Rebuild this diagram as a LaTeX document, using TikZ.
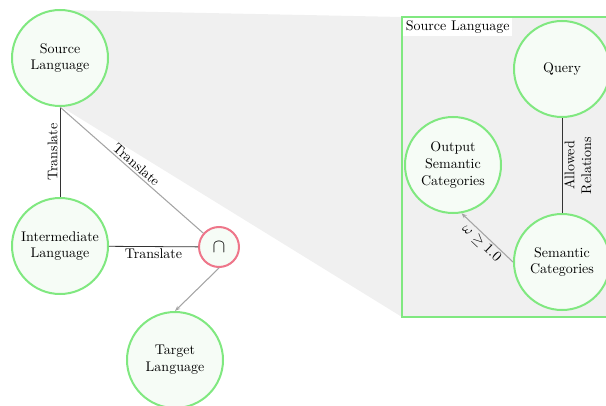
\documentclass[tikz,border=0pt]{standalone}
\usetikzlibrary{arrows.meta,backgrounds}
\definecolor{nodegreen}{RGB}{128,232,128}
\definecolor{nodefill}{RGB}{246,252,246}
\definecolor{capred}{RGB}{238,118,138}
\definecolor{zoomgray}{RGB}{240,240,240}
\definecolor{edgegray}{RGB}{165,165,165}
\newcommand{\lblfont}{\fontsize{10.5}{12.5}\selectfont}
\begin{document}
\begin{tikzpicture}[x=0.75pt,y=-0.75pt,
  lang/.style={circle,draw=nodegreen,line width=1.5pt,fill=nodefill,
    minimum size=72pt,inner sep=1pt,align=center,font=\lblfont},
  capnode/.style={circle,draw=capred,line width=1.5pt,fill=nodefill,
    minimum size=30pt,inner sep=0pt,font=\fontsize{15}{15}\selectfont},
  zoomframe/.style={draw=nodegreen,line width=1.2pt,fill=zoomgray},
  conn/.style={draw=black!80,line width=0.6pt},
  gconn/.style={draw=edgegray,line width=0.8pt},
  garrow/.style={gconn,-{Stealth[length=4pt,width=3pt]}},
  lbl/.style={font=\lblfont,inner sep=1.5pt}]
\useasboundingbox (0,0) rectangle (606,406);
\clip (0,0) rectangle (606,406);

% corners of the magnified view (it runs past the right edge)
\coordinate (znw) at (402,17);
\coordinate (zsw) at (402,317);
\coordinate (zse) at (640,317);

% zoom wedge and frame
\fill[zoomgray] (60,10) -- (znw) -- (zsw) -- (60,106) -- cycle;
\path[zoomframe] (znw) rectangle (zse);

% left-hand translation graph
\node[lang] (src) at (60,58) {Source\\Language};
\node[lang] (mid) at (60,246) {Intermediate\\Language};
\node[capnode] (cap) at (219,247) {$\cap$};
\node[lang] (tgt) at (175,360) {Target\\Language};

% magnified view of the source language
\node[fill=white,anchor=north west,inner sep=2pt,font=\lblfont] (title)
  at ([xshift=0.7pt,yshift=-0.7pt]znw) {Source Language};
\node[lang] (query) at (562,69) {Query};
\node[lang] (out) at (453,165) {Output\\Semantic\\Categories};
\node[lang] (sc) at (562,262) {Semantic\\Categories};

% connectors
\draw[conn] (mid) -- node[midway,sloped,above,lbl] {Translate} (src);
\draw[gconn] (src.south) -- node[midway,sloped,above,lbl] {Translate} (cap);
\draw[conn] (mid) -- node[midway,below,lbl] {Translate} (cap);
\draw[garrow] (cap.south) -- (tgt.north);
\draw[conn] (sc) -- node[midway,sloped,below,lbl,align=center] {Allowed\\Relations} (query);
\draw[garrow] (sc.west) -- node[midway,sloped,below,lbl] {$\omega\geq 1.0$} (out.-80);
\end{tikzpicture}
\end{document}
